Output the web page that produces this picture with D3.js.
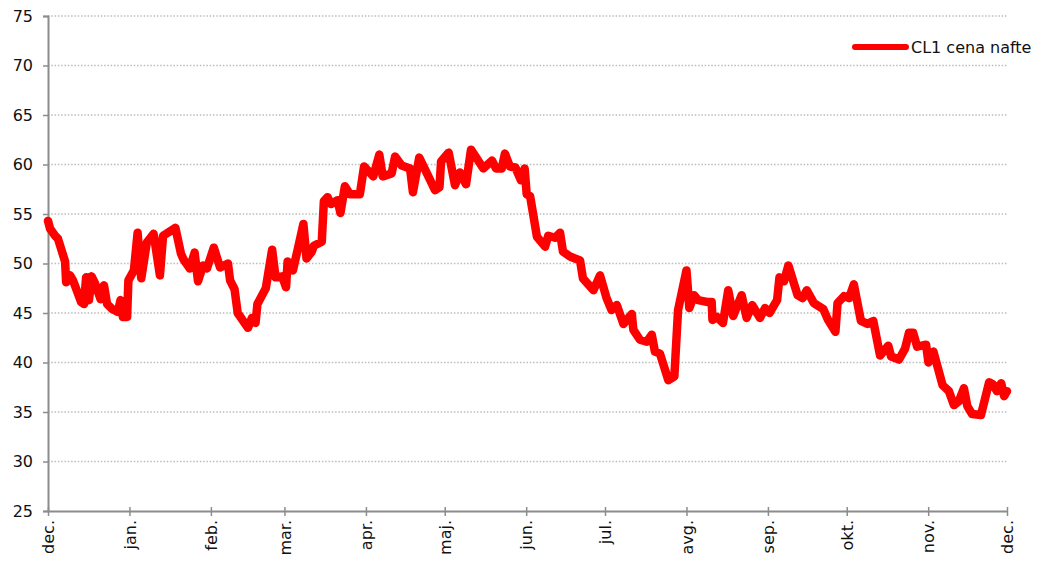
<!DOCTYPE html>
<html>
<head>
<meta charset="utf-8">
<script src="https://cdn.jsdelivr.net/npm/d3@7"></script>
<style>
  html, body { margin: 0; padding: 0; background: #ffffff; }
  svg { display: block; }
  text { font-family: "DejaVu Sans", sans-serif; }
</style>
</head>
<body>
<svg id="chart" width="1043" height="567"></svg>
<script>
// ---- data ----
const seriesName = "CL1 cena nafte";
const monthLabels = ["dec.", "jan.", "feb.", "mar.", "apr.", "maj.", "jun.", "jul.", "avg.", "sep.", "okt.", "nov.", "dec."];
const yTickValues = [25, 30, 35, 40, 45, 50, 55, 60, 65, 70, 75];
// days since 1 Dec
const days = [
  0, 0.8, 2.7, 3.8, 6.5, 6.9, 8.4, 9.5, 12.6, 13.7, 14.5, 15.6, 16.6, 17.9, 20.0, 21.3, 22.5, 24.4, 26.6, 27.6,
  28.5, 30.1, 30.6, 32.7, 34.1, 35.5, 37.6, 40.2, 42.6, 43.8, 48.5, 50.6, 51.6, 54.0, 55.8, 57.1, 59.0, 60.5, 63.1, 65.5,
  68.5, 69.3, 71.0, 72.2, 76.1, 77.6, 79.0, 79.7, 82.9, 85.3, 86.6, 89.1, 90.6, 91.2, 93.2, 95.2, 97.2, 98.4, 100.4, 101.2,
  104.2, 105.0, 106.4, 107.7, 110.2, 111.3, 113.0, 114.9, 117.6, 118.7, 120.3, 123.8, 126.1, 127.4, 130.8, 132.1, 134.6, 137.8, 138.9, 141.3,
  144.4, 147.3, 149.0, 149.6, 152.5, 154.9, 156.8, 159.1, 161.0, 162.5, 165.7, 169.0, 170.5, 172.7, 173.9, 175.8, 177.9, 180.0, 181.4, 182.2,
  183.5, 186.1, 189.2, 190.4, 193.0, 194.9, 196.0, 198.7, 202.5, 203.6, 207.6, 210.1, 212.6, 214.5, 216.5, 219.0, 222.2, 222.8, 225.3, 227.9,
  229.8, 231.0, 232.9, 236.1, 238.4, 239.8, 243.0, 244.1, 245.9, 247.5, 251.2, 252.6, 252.9, 254.6, 256.9, 258.9, 260.8, 264.0, 265.9, 268.0,
  271.0, 272.9, 274.6, 277.5, 278.4, 280.1, 281.8, 285.3, 287.2, 288.8, 291.5, 295.1, 296.7, 299.7, 300.5, 303.0, 304.9, 306.7, 309.4, 311.9,
  314.1, 316.7, 319.8, 320.9, 323.9, 326.2, 327.7, 329.3, 330.8, 334.2, 335.1, 337.0, 340.5, 342.9, 344.8, 346.7, 348.6, 349.9, 351.7, 355.1,
  358.2, 359.6, 361.2, 362.8, 363.9, 365.0
];
const prices = [
  54.3, 53.5, 52.8, 52.5, 50.2, 48.1, 48.8, 48.3, 46.1, 45.9, 48.6, 46.3, 48.7, 48.0, 46.4, 47.8, 45.9, 45.4, 45.1, 46.3,
  44.6, 44.6, 48.3, 49.3, 53.1, 48.5, 52.1, 53.0, 48.8, 52.8, 53.6, 51.0, 50.4, 49.5, 51.1, 48.2, 49.8, 49.5, 51.6, 49.6,
  50.0, 48.3, 47.4, 45.0, 43.5, 44.5, 44.0, 45.9, 47.5, 51.4, 48.6, 48.7, 47.6, 50.2, 49.3, 51.6, 54.0, 50.5, 51.2, 51.8,
  52.2, 56.3, 56.7, 56.0, 56.4, 55.1, 57.8, 57.0, 57.0, 57.0, 59.8, 58.8, 61.0, 58.8, 59.1, 60.8, 59.9, 59.6, 57.2, 60.7,
  59.0, 57.4, 57.7, 60.3, 61.2, 57.9, 59.2, 58.0, 61.5, 60.9, 59.6, 60.4, 59.6, 59.6, 61.1, 59.8, 59.7, 58.4, 59.6, 57.0,
  56.8, 52.7, 51.7, 52.8, 52.6, 53.1, 51.2, 50.7, 50.3, 48.5, 47.3, 48.8, 46.5, 45.3, 45.8, 43.9, 44.9, 43.3, 42.3, 42.1,
  42.8, 41.1, 40.9, 38.2, 38.6, 45.3, 49.3, 45.5, 46.8, 46.3, 46.1, 46.1, 44.3, 44.6, 44.0, 47.3, 44.7, 46.8, 44.5, 45.8,
  44.5, 45.5, 45.0, 46.3, 48.6, 48.2, 49.8, 46.8, 46.5, 47.3, 46.0, 45.4, 44.4, 43.1, 46.0, 46.7, 46.5, 47.9, 44.2, 43.9,
  44.2, 40.7, 41.7, 40.6, 40.3, 41.4, 43.0, 43.0, 41.6, 41.8, 40.0, 41.1, 37.7, 37.1, 35.7, 36.1, 37.4, 35.6, 34.8, 34.7,
  38.0, 37.8, 37.1, 37.9, 36.6, 37.1
];

// ---- layout ----
const W = 1043, H = 567;
const margin = { left: 48, right: 36, top: 16, bottom: 56 };
const svg = d3.select("#chart");
svg.append("rect").attr("width", W).attr("height", H).attr("fill", "#ffffff");

const start = new Date(Date.UTC(2014, 11, 1));
const end = new Date(Date.UTC(2015, 11, 1));
const dayToDate = d => new Date(start.getTime() + d * 864e5);

const x = d3.scaleUtc().domain([start, end]).range([margin.left, W - margin.right]);
const y = d3.scaleLinear().domain([25, 75]).range([H - margin.bottom, margin.top]);

const data = days.map((d, i) => ({ date: dayToDate(d), v: prices[i] }));

// gridlines
svg.append("g")
  .selectAll("line")
  .data(yTickValues.filter(v => v > 25))
  .join("line")
  .attr("x1", margin.left).attr("x2", W - margin.right)
  .attr("y1", d => y(d)).attr("y2", d => y(d))
  .attr("stroke", "#bcbcbc")
  .attr("stroke-width", 1.3)
  .attr("stroke-dasharray", "1.5,1.8");

// y axis
const yAxis = svg.append("g")
  .attr("transform", `translate(${margin.left},0)`)
  .call(d3.axisLeft(y).tickValues(yTickValues).tickSize(5).tickPadding(10).tickFormat(d3.format("d")));
yAxis.select(".domain").attr("stroke", "#8c8c8c").attr("stroke-width", 2);
yAxis.selectAll(".tick line").attr("stroke", "#8c8c8c").attr("stroke-width", 1.5);
yAxis.selectAll("text").attr("font-size", 16).attr("fill", "#111").attr("font-family", "DejaVu Sans, sans-serif");

// x axis
const monthTicks = d3.utcMonth.range(start, d3.utcDay.offset(end, 1));
const xAxis = svg.append("g")
  .attr("transform", `translate(0,${H - margin.bottom})`)
  .call(d3.axisBottom(x).tickValues(monthTicks).tickSize(5).tickSizeOuter(0)
    .tickFormat((d, i) => monthLabels[i]));
xAxis.select(".domain").attr("stroke", "#8c8c8c").attr("stroke-width", 2);
xAxis.selectAll(".tick line").attr("stroke", "#8c8c8c").attr("stroke-width", 1.5).attr("y1", -4);
xAxis.selectAll("text")
  .attr("font-size", 16).attr("fill", "#111").attr("font-family", "DejaVu Sans, sans-serif")
  .attr("transform", "rotate(-90)")
  .attr("text-anchor", "end")
  .attr("x", -9).attr("y", 0).attr("dy", "0.36em");

// line
const line = d3.line().x(d => x(d.date)).y(d => y(d.v));
svg.append("path")
  .datum(data)
  .attr("d", line)
  .attr("fill", "none")
  .attr("stroke", "#ff0000")
  .attr("stroke-width", 8.5)
  .attr("stroke-linejoin", "round")
  .attr("stroke-linecap", "round");

// legend
const lg = svg.append("g").attr("transform", "translate(855,47)");
lg.append("line").attr("x1", 0).attr("x2", 51).attr("y1", 0).attr("y2", 0)
  .attr("stroke", "#ff0000").attr("stroke-width", 6).attr("stroke-linecap", "round");
lg.append("text").attr("x", 56).attr("y", 6).attr("font-size", 16).attr("fill", "#111")
  .text(seriesName);
</script>
</body>
</html>
